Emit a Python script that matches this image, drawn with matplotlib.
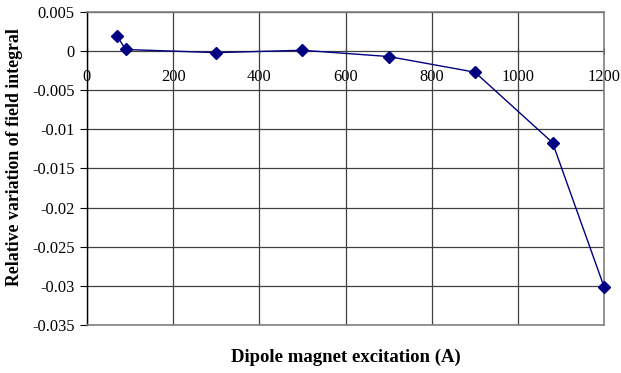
import matplotlib.pyplot as plt
import numpy as np

plt.rcParams["font.family"] = ["Liberation Serif", "DejaVu Serif"]

# Data
excitation = [70, 90, 300, 500, 700, 900, 1080, 1200]
variation = [0.0019, 0.0002, -0.0002, 0.0001, -0.0007, -0.0027, -0.0117, -0.0302]

x_ticks = [0, 200, 400, 600, 800, 1000, 1200]
y_ticks = [0.005, 0, -0.005, -0.01, -0.015, -0.02, -0.025, -0.03, -0.035]
y_tick_labels = ["0.005", "0", "-0.005", "-0.01", "-0.015", "-0.02", "-0.025", "-0.03", "-0.035"]

navy = "#000080"
frame_grey = "#808080"

fig = plt.figure(figsize=(6.21, 3.73), dpi=100)
ax = fig.add_axes([0.140, 0.129, 0.833, 0.839])

ax.plot(excitation, variation, color=navy, linewidth=1.0,
        marker="D", markersize=6.3, markerfacecolor=navy, markeredgecolor=navy,
        clip_on=False, zorder=3)

ax.set_xlim(0, 1200)
ax.set_ylim(-0.035, 0.005)

ax.set_yticks(y_ticks)
ax.set_yticklabels(y_tick_labels, fontsize=11.8)
ax.tick_params(axis="y", direction="out", length=5, width=0.8, color="black", pad=4)

# x ticks live on the zero line, as in the original
ax.set_xticks(x_ticks)
ax.tick_params(axis="x", length=0, labelbottom=False)
zero_frac = (0 - (-0.035)) / (0.005 - (-0.035))
sec = ax.secondary_xaxis(zero_frac)
sec.set_xticks(x_ticks)
sec.set_xticklabels([str(t) for t in x_ticks], fontsize=11.8)
sec.tick_params(axis="x", bottom=True, top=False, labelbottom=True, labeltop=False,
                direction="inout", length=4, width=0.8, pad=11)
sec.spines["bottom"].set_color("black")
sec.spines["bottom"].set_linewidth(1.0)
sec.spines["top"].set_visible(False)

ax.grid(True, color="#404040", linewidth=0.9)
ax.set_axisbelow(True)

for side in ["top", "right", "bottom", "left"]:
    ax.spines[side].set_color(frame_grey)
    ax.spines[side].set_linewidth(1.2)
ax.spines["left"].set_color("black")
ax.spines["left"].set_linewidth(1.0)

fig.text(15 / 621, 1 - 157 / 373, "Relative variation of field integral",
         rotation=90, ha="center", va="center", fontsize=12.8, fontweight="bold")
fig.text(346 / 621, 1 - 357 / 373, "Dipole magnet excitation (A)",
         ha="center", va="center", fontsize=13.5, fontweight="bold")

fig.savefig("out.png", dpi=100)
